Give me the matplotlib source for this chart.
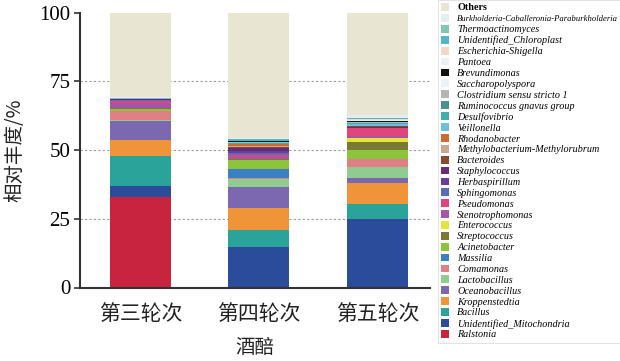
import matplotlib
matplotlib.use("Agg")
import matplotlib.pyplot as plt
from matplotlib.patches import Patch

# ── Datos (de abajo hacia arriba en cada barra) ──────────────
categorias = ["第三轮次", "第四轮次", "第五轮次"]

generos = [
    "Ralstonia", "Unidentified_Mitochondria", "Bacillus", "Kroppenstedtia",
    "Oceanobacillus", "Lactobacillus", "Comamonas", "Massilia",
    "Acinetobacter", "Streptococcus", "Enterococcus", "Stenotrophomonas",
    "Pseudomonas", "Sphingomonas", "Herbaspirillum", "Staphylococcus",
    "Bacteroides", "Methylobacterium-Methylorubrum", "Rhodanobacter",
    "Veillonella", "Desulfovibrio", "Ruminococcus_gnavus_group",
    "Clostridium_sensu_stricto_1", "Saccharopolyspora", "Brevundimonas",
    "Pantoea", "Escherichia-Shigella", "Unidentified_Chloroplast",
    "Thermoactinomyces", "Burkholderia-Caballeronia-Paraburkholderia", "Others",
]

ronda3 = [33.0, 4.0, 10.8, 5.8, 7.1, 0.2, 3.3, 0.1, 0.8, 0.2, 0.1, 1.6,
          0.9, 0.2, 0.3, 0.2, 0.05, 0.05, 0.05, 0.05, 0.05, 0.02, 0.02,
          0.02, 0.05, 0.02, 0.05, 0.05, 0.02, 0.1, 30.8]
ronda4 = [0.3, 14.5, 6.1, 7.9, 7.6, 3.1, 0.2, 3.6, 3.1, 0.3, 0.1, 0.8,
          0.5, 0.9, 0.8, 0.8, 0.5, 0.5, 0.5, 0.3, 0.2, 0.1, 0.1,
          0.05, 0.3, 0.05, 0.2, 0.5, 0.2, 0.3, 45.6]
ronda5 = [0.0, 24.8, 5.7, 7.4, 1.8, 4.0, 2.9, 0.2, 3.4, 2.7, 1.6, 0.6,
          2.8, 0.1, 0.2, 0.3, 0.1, 0.1, 0.1, 0.6, 0.5, 0.1, 0.1,
          0.3, 0.1, 0.5, 0.2, 0.3, 0.2, 1.0, 37.3]

colores = [
    "#c8243f", "#2b4c9b", "#2aa39a", "#f0943a", "#7b68b0", "#90cc90",
    "#e07f85", "#3b7fc4", "#8cc43c", "#7a7a35", "#e4e43a", "#a855a8",
    "#e0457b", "#5a6bb8", "#6a3d9a", "#6a2a7a", "#8b4a2f", "#c8a890",
    "#d06b30", "#6cc0dc", "#3fb0b0", "#4f8f8f", "#b5b5b5", "#eef2f8",
    "#111111", "#eef0f8", "#efd9c4", "#4fb8c8", "#7fc8b0", "#e3eef3",
    "#e8e5d3",
]

etiquetas = [g.replace("_", " ") if g.startswith(("Ruminococcus", "Clostridium")) else g
             for g in generos]

# ── Figura ───────────────────────────────────────────────────
fig = plt.figure(figsize=(6.2, 3.61), dpi=100)
ax = fig.add_axes([80 / 620, 1 - 287.5 / 361, 350 / 620, 274.8 / 361])

x = range(len(categorias))
datos = list(zip(ronda3, ronda4, ronda5))
base = [0.0, 0.0, 0.0]
for fila, color in zip(datos, colores):
    ax.bar(x, fila, bottom=base, width=0.515, color=color, linewidth=0)
    base = [b + v for b, v in zip(base, fila)]

for yv in (25, 50, 75):
    ax.axhline(yv, color="#999999", linestyle=(0, (2, 2)), linewidth=0.8, zorder=0)

ax.set_xlim(-0.51, 2.443)
ax.set_ylim(0, 100)
ax.set_yticks([0, 25, 50, 75, 100])
for s in ("top", "right"):
    ax.spines[s].set_visible(False)
for s in ("left", "bottom"):
    ax.spines[s].set_color("#333333")
    ax.spines[s].set_linewidth(1.5)
ax.tick_params(axis="y", direction="out", length=4, width=1.2, color="#333333", pad=3)
ax.tick_params(axis="x", length=0, pad=11)
for t in ax.get_yticklabels():
    t.set_fontfamily("Liberation Serif")
    t.set_fontsize(15)
ax.set_xticks(list(x))
ax.set_xticklabels(categorias, fontfamily="Noto Sans CJK SC", fontsize=15, color="#222222")
ax.set_xlabel("酒醅", fontfamily="Noto Sans CJK SC", fontsize=14, labelpad=9, color="#222222")
ax.set_ylabel("相对丰度/%", fontfamily="Noto Sans CJK SC", fontsize=14, labelpad=10, color="#222222")

# ── Leyenda ──────────────────────────────────────────────────
handles = [Patch(facecolor=c, edgecolor="none") for c in colores][::-1]
leg = fig.legend(handles, etiquetas[::-1], loc="upper left",
                 bbox_to_anchor=(438 / 620, 1.0), borderaxespad=0,
                 prop={"family": "Liberation Serif", "style": "italic", "size": 7.3},
                 labelspacing=0.145, handlelength=0.8, handleheight=0.8,
                 handletextpad=0.8, borderpad=0.3, frameon=True, fancybox=False,
                 edgecolor="#dddddd")
leg.get_frame().set_linewidth(0.8)
textos = leg.get_texts()
textos[0].set_fontstyle("normal")
textos[0].set_fontweight("bold")
textos[1].set_fontsize(6.2)

fig.savefig("out.png", dpi=100)
